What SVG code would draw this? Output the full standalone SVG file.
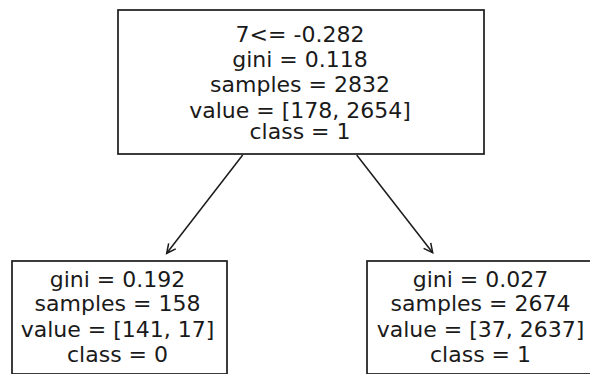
<svg xmlns="http://www.w3.org/2000/svg" width="590" height="374" viewBox="0 0 590 374">
<style>
.box{fill:#ffffff;stroke:#1a1a1a;stroke-width:1.7}
.t{font-family:"DejaVu Sans",sans-serif;font-size:22px;fill:#1a1a1a;text-anchor:middle}
.edge{stroke:#1a1a1a;stroke-width:1.5;fill:none}
</style>
<defs>
<marker id="arr" markerUnits="userSpaceOnUse" markerWidth="14" markerHeight="14" viewBox="-12 -7 14 14" refX="0" refY="0" orient="auto">
<path d="M-9,-4.5 L0,0 L-9,4.5" fill="none" stroke="#1a1a1a" stroke-width="1.5"/>
</marker>
</defs>
<rect width="590" height="374" fill="#ffffff"/>
<g id="connectors">
<line class="edge" x1="242.7" y1="155" x2="166.7" y2="253.3" marker-end="url(#arr)"/>
<line class="edge" x1="356.7" y1="155" x2="432.7" y2="252.7" marker-end="url(#arr)"/>
</g>
<g id="root">
<rect class="box" x="118" y="10" width="366" height="144"/>
<text class="t" x="300" y="41.7">7&lt;= -0.282</text>
<text class="t" x="300" y="66.7">gini = 0.118</text>
<text class="t" x="300" y="92.3">samples = 2832</text>
<text class="t" x="300" y="117.5">value = [178, 2654]</text>
<text class="t" x="300" y="139.3">class = 1</text>
</g>
<g id="leaf-left">
<rect class="box" x="12" y="261" width="215" height="113"/>
<text class="t" x="117.5" y="287">gini = 0.192</text>
<text class="t" x="117.5" y="311.3">samples = 158</text>
<text class="t" x="117.5" y="337">value = [141, 17]</text>
<text class="t" x="117.5" y="362">class = 0</text>
</g>
<g id="leaf-right">
<rect class="box" x="367" y="261" width="228" height="113"/>
<text class="t" x="480.5" y="287">gini = 0.027</text>
<text class="t" x="480.5" y="311.3">samples = 2674</text>
<text class="t" x="480.5" y="337">value = [37, 2637]</text>
<text class="t" x="480.5" y="362">class = 1</text>
</g>
</svg>
